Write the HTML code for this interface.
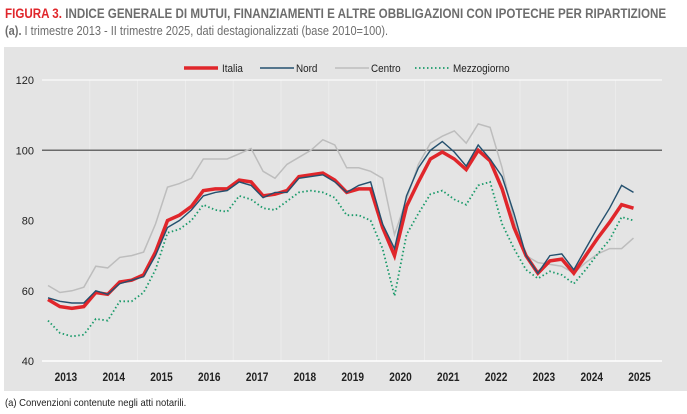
<!DOCTYPE html>
<html><head><meta charset="utf-8"><style>
body{margin:0;width:687px;height:414px;background:#fff;font-family:"Liberation Sans",sans-serif;overflow:hidden;position:relative}
.t{position:absolute;left:5px;top:6px;font-size:13.5px;font-weight:bold;color:#6d6d6d;transform:scaleX(0.86);transform-origin:left;white-space:nowrap}
.t b{color:#e0262b}
.s{position:absolute;left:5px;top:24px;font-size:12.5px;color:#6d6d6d;transform:scaleX(0.88);transform-origin:left;white-space:nowrap}
.f{position:absolute;left:5px;top:397px;font-size:10.5px;color:#222;transform:scaleX(0.9);transform-origin:left;white-space:nowrap}
svg{position:absolute;left:0;top:0}
</style></head><body>
<div class="t"><b>FIGURA 3.</b> INDICE GENERALE DI MUTUI, FINANZIAMENTI E ALTRE OBBLIGAZIONI CON IPOTECHE PER RIPARTIZIONE</div>
<div class="s"><b>(a).</b> I trimestre 2013 - II trimestre 2025, dati destagionalizzati (base 2010=100).</div>
<svg id="c" width="687" height="414" font-family="Liberation Sans, sans-serif"></svg>
<div class="f">(a) Convenzioni contenute negli atti notarili.</div>
<script>
const I=[57.5,55.5,55,55.5,59.5,59,62.5,63,64.5,71,80,81.5,84,88.5,89,89,91.5,91,87,87.5,88.5,92.5,93,93.5,91.5,88,89,89,78,70,84,91,97.5,99.5,97.5,94.5,100,97,89,78,70,65,68.5,69,65,70,75,79.5,84.5,83.5];
const N=[58,57,56.5,56.5,60,59,62,63,64,70,78,80,83,87,88,88.5,91,90,86.5,88,88,92,92.5,93,91,88,90,91,79,72,87,95,100,102.5,99.5,95.5,101.5,97.5,92.5,82,70,65,70,70.5,66,72,78,83.5,90,88];
const C=[61.5,59.5,60,61,67,66.5,69.5,70,71,79,89.5,90.5,92,97.5,97.5,97.5,99,100.5,94,92,96,98,100,103,101.5,95,95,94,92,76,86,96,102,104,105.5,102,107.5,106.5,95,80,70,68,67.5,67,65,68,70.5,72,72,75];
const M=[51.5,48,47,47.5,52,51.5,57,57,59.5,66,76.5,77.5,80,84.5,83,82.5,87,86,83.5,83,85.5,88,88.5,88,86.5,81.5,81.5,80,72,58.5,76,82,87.5,88.5,86,84.5,90,91,79,72,66,63.5,65.5,64.5,62,66,70.5,74.5,81,80];
const x0=42,yw=47.8,X=i=>x0+(i+0.5)*yw/4,Y=v=>361-(v-40)*281/80;
let s='<rect x="4" y="47" width="683" height="344" fill="#e4e4e4"/>';
for(let k=1;k<13;k++)s+=`<line x1="${x0+k*yw}" y1="80" x2="${x0+k*yw}" y2="361" stroke="#ececec" stroke-width="1"/>`;
s+=`<line x1="${x0}" y1="80" x2="662" y2="80" stroke="#fff"/><line x1="${x0}" y1="361" x2="662" y2="361" stroke="#fff" stroke-width="1.5"/>`;
s+=`<line x1="${x0}" y1="${Y(100)}" x2="662" y2="${Y(100)}" stroke="#6a6a6a" stroke-width="1.5"/>`;
[40,60,80,100,120].forEach(v=>s+=`<text x="34" y="${Y(v)+4}" font-size="11" text-anchor="end" fill="#222">${v}</text>`);
for(let k=0;k<13;k++)s+=`<text x="${x0+(k+0.5)*yw}" y="381" font-size="11.5" font-weight="bold" text-anchor="middle" fill="#222" transform="translate(${(x0+(k+0.5)*yw)*0.12},0) scale(0.88,1)">${2013+k}</text>`;
const p=a=>a.map((v,i)=>X(i).toFixed(1)+','+Y(v).toFixed(1)).join(' ');
s+=`<polyline points="${p(C)}" fill="none" stroke="#bdbdbd" stroke-width="1.5"/>`;
s+=`<polyline points="${p(M)}" fill="none" stroke="#1a9a6a" stroke-width="1.8" stroke-dasharray="1.5,2.5"/>`;
s+=`<polyline points="${p(I)}" fill="none" stroke="#e0262b" stroke-width="3.5"/>`;
s+=`<polyline points="${p(N)}" fill="none" stroke="#24506e" stroke-width="1.4"/>`;
const L=[[184,220,'Italia','#e0262b',3.5,''],[260,294,'Nord','#24506e',1.5,''],[335,369,'Centro','#bdbdbd',1.5,''],[415,451,'Mezzogiorno','#1a9a6a',1.8,'1.5,2.5']];
L.forEach(l=>{s+=`<line x1="${l[0]}" y1="68" x2="${l[0]+34}" y2="68" stroke="${l[3]}" stroke-width="${l[4]}" stroke-dasharray="${l[5]}"/><text x="${l[1]+2}" y="72" font-size="11" fill="#222" transform="translate(${(l[1]+2)*0.1},0) scale(0.9,1)">${l[2]}</text>`});
document.getElementById('c').innerHTML=s;
</script>
</body></html>
